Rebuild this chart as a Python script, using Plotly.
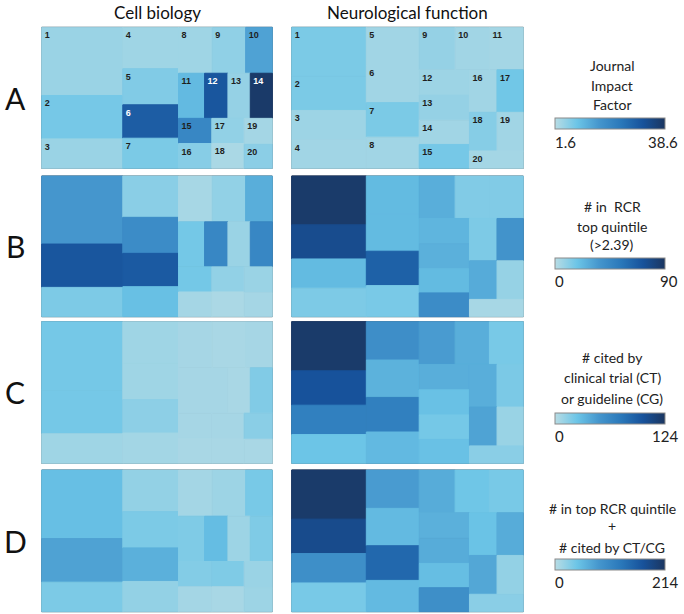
import plotly.graph_objects as go
from plotly.colors import sample_colorscale

labels = [str(i) for i in range(1, 21)]

# tile sizes (area), ranked 1..20
cell_sizes = [5508, 3507, 2373, 2300, 2005, 1855, 1671, 1540, 1530, 1220,
              1170, 1049, 1004, 990, 833, 820, 810, 800, 728, 672]
neuro_sizes = [3592, 2514, 2150, 2100, 1987, 1935, 1794, 1621, 1505, 1435,
               1420, 1250, 1240, 1200, 1180, 1150, 1100, 1050, 1000, 918]

# A: Journal Impact Factor
cell_jif = [4.5, 8, 4.5, 4, 7, 29, 7.5, 4, 5.5, 14.5, 10.8, 30.5, 5, 37.5, 20, 6.4, 5.3, 3, 3.5, 6]
neuro_jif = [7.5, 7.5, 4.2, 3.8, 3.8, 3.8, 7.5, 3.8, 5, 3.8, 3.5, 4.2, 5, 3.8, 8, 3.8, 8.5, 6.5, 3.8, 3.5]
# B: # in RCR top quintile
cell_rcr = [36, 70, 14, 11, 42, 68, 20, 4, 9, 27, 16, 45, 7, 45, 16, 4.5, 9, 3, 7, 4.5]
neuro_rcr = [87, 76, 22, 14, 22, 22, 65, 15, 27, 13, 13, 24, 26, 22, 42, 14, 38, 28, 8, 4]
# C: # cited by CT / CG
cell_ct = [22, 22, 8, 8, 8, 14, 7, 6, 5, 6, 6, 6, 5, 18, 6, 5, 6, 5, 15, 5]
neuro_ct = [120, 99, 68, 25, 56, 35, 68, 31, 47, 37, 21, 37, 27, 22, 27, 37, 20, 43, 10, 15]
# D: RCR top quintile + CT/CG
cell_sum = [48, 75, 34, 21, 34, 62, 21, 11, 15, 36, 32, 50, 15, 32, 30, 11, 32, 9, 17, 15]
neuro_sum = [207, 182, 96, 36, 81, 53, 146, 53, 66, 41, 36, 62, 66, 49, 96, 45, 66, 70, 21, 26]

row_letters = ["A", "B", "C", "D"]
col_titles = ["Cell biology", "Neurological function"]
cbar_titles = ["Journal<br>Impact<br>Factor",
               "# in  RCR<br>top quintile<br>(>2.39)",
               "# cited by<br>clinical trial (CT)<br>or guideline (CG)",
               "# in top RCR quintile<br>+<br># cited by CT/CG"]
cbar_min = [1.6, 0, 0, 0]
cbar_max = [38.6, 90, 124, 214]
cbar_tick_text = [("1.6", "38.6"), ("0", "90"), ("0", "124"), ("0", "214")]

W, H = 684, 614
colorscale = [[0.0, "#b8dce4"], [0.2, "#6cc5e7"], [0.4, "#4596cd"],
              [0.6, "#2a78ba"], [0.8, "#17529b"], [1.0, "#1b3660"]]

# pixel geometry (top, bottom) of each row and (left, right) of each column
row_px = [(27.3, 168.3), (176, 316.7), (321.7, 463.3), (470, 611.7)]
col_px = [(41.7, 272.3), (291.7, 523.3)]

fig = go.Figure()
data_rows = [(cell_jif, neuro_jif), (cell_rcr, neuro_rcr), (cell_ct, neuro_ct), (cell_sum, neuro_sum)]
sizes = [cell_sizes, neuro_sizes]

for r, pair in enumerate(data_rows):
    ca = "coloraxis" if r == 0 else f"coloraxis{r+1}"
    for c in range(2):
        y0, y1 = row_px[r]
        x0, x1 = col_px[c]
        vals = pair[c]
        norm = [(v - cbar_min[r]) / (cbar_max[r] - cbar_min[r]) for v in vals]
        # seam-free edges: outline each tile in its own fill colour
        edge = sample_colorscale(colorscale, norm)
        txtcol = ["white" if n > 0.62 else "#1e1e1e" for n in norm]
        fig.add_trace(go.Treemap(
            labels=labels,
            parents=[""] * 20,
            values=sizes[c],
            marker=dict(colors=vals, coloraxis=ca, line=dict(width=1, color=edge),
                        pad=dict(t=0, l=0, r=0, b=0)),
            domain=dict(x=[x0 / W, x1 / W], y=[1 - y1 / H, 1 - y0 / H]),
            textinfo="label" if r == 0 else "none",
            textposition="top left",
            textfont=dict(size=9, family="Liberation Sans", weight="bold", color=txtcol),
            pathbar=dict(visible=False),
            root=dict(color="white"),
            sort=True,
            hoverinfo="label+value",
            tiling=dict(packing="squarify", squarifyratio=1.618, pad=0),
        ))

# colorbars
bar_y = [(119, 130), (258, 269), (413, 424), (559, 570)]
title_y = [[65, 85, 105], [207, 227, 245], [357, 377, 398], [508, 525, 547]]
layout_axes = {}
for r in range(4):
    name = "coloraxis" if r == 0 else f"coloraxis{r+1}"
    yc = 1 - (bar_y[r][0] + bar_y[r][1]) / 2 / H
    layout_axes[name] = dict(
        colorscale=colorscale, cmin=cbar_min[r], cmax=cbar_max[r],
        colorbar=dict(orientation="h", x=610 / W, xanchor="center", y=yc, yanchor="middle",
                      len=110, lenmode="pixels", thickness=11, thicknessmode="pixels",
                      outlinewidth=1, outlinecolor="#8a8a8a", showticklabels=False, ticks="",
                      xpad=0, ypad=0),
    )
fig.update_layout(**layout_axes)

ann = []
for r in range(4):
    lines = cbar_titles[r].split("<br>")
    for k, line in enumerate(lines):
        ann.append(dict(text=line, x=612 / W, y=1 - title_y[r][k] / H, xref="paper", yref="paper",
                        xanchor="center", yanchor="middle", showarrow=False,
                        font=dict(size=14, family="Lato", color="#222")))
    ty = 1 - (bar_y[r][1] + 12) / H
    ann.append(dict(text=cbar_tick_text[r][0], x=553 / W, y=ty, xref="paper", yref="paper",
                    xanchor="left", yanchor="middle", showarrow=False,
                    font=dict(size=15, family="Lato", color="#222")))
    ann.append(dict(text=cbar_tick_text[r][1], x=680 / W, y=ty, xref="paper", yref="paper",
                    xanchor="right", yanchor="middle", showarrow=False,
                    font=dict(size=15, family="Lato", color="#222")))
    # row letters
    yc = 1 - (row_px[r][0] + row_px[r][1]) / 2 / H
    ann.append(dict(text=row_letters[r], x=15 / W, y=yc, xref="paper", yref="paper",
                    xanchor="center", yanchor="middle", showarrow=False,
                    font=dict(size=30, family="Lato", color="#111")))

for c in range(2):
    xc = (col_px[c][0] + col_px[c][1]) / 2 / W
    ann.append(dict(text=col_titles[c], x=xc, y=1 - 12 / H, xref="paper", yref="paper",
                    xanchor="center", yanchor="middle", showarrow=False,
                    font=dict(size=17, family="Lato", color="#111")))

fig.update_layout(width=W, height=H, margin=dict(l=0, r=0, t=0, b=0),
                  paper_bgcolor="white", plot_bgcolor="white", annotations=ann,
                  showlegend=False)

fig.write_html("out.html", config={"displayModeBar": False},
               post_script="document.body.style.margin='0';document.body.style.overflow='hidden';")
